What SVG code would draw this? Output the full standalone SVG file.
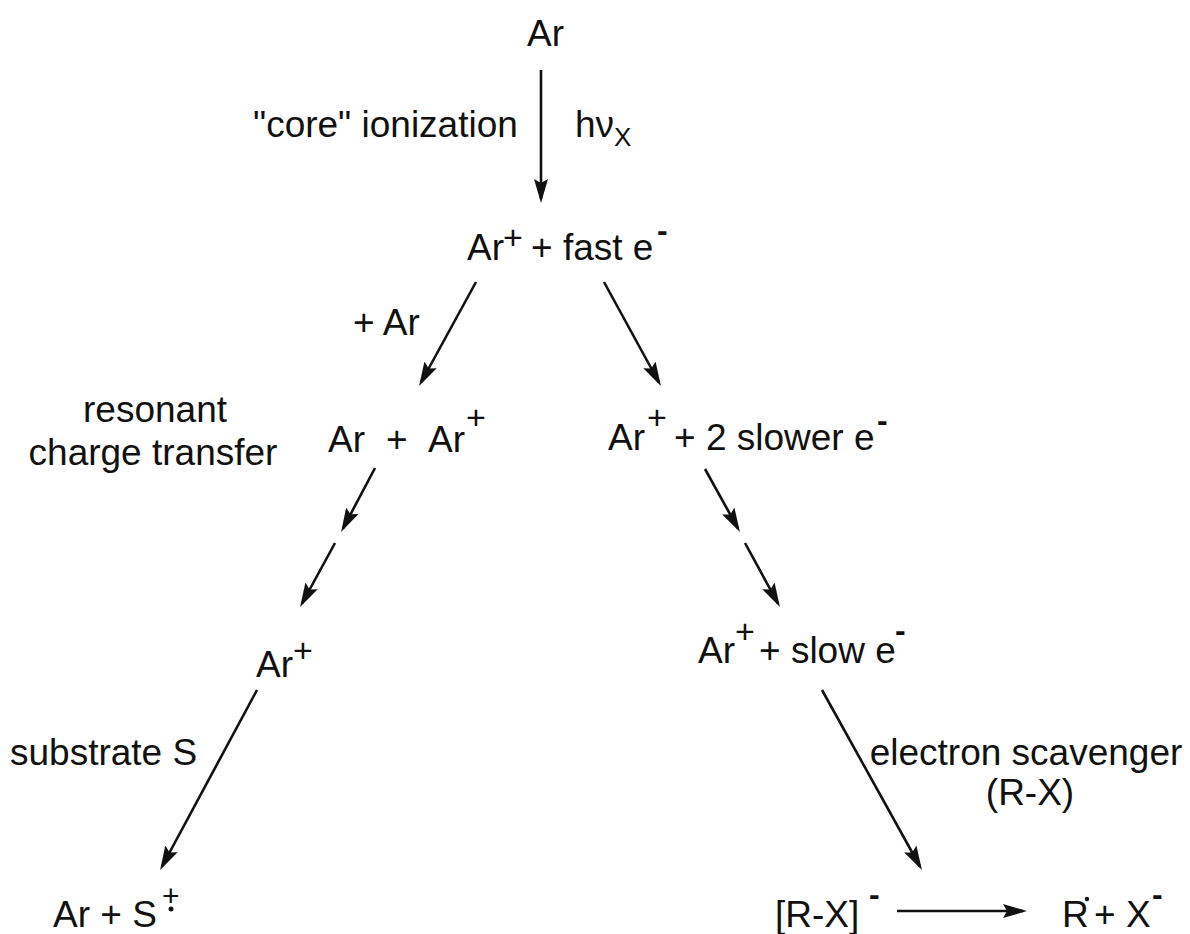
<svg xmlns="http://www.w3.org/2000/svg" width="1190" height="934" viewBox="0 0 1190 934">
<style>
text{font-family:"Liberation Sans",Arial,sans-serif;font-size:37px;fill:#111}
.sup{font-size:34px}
.sup2{font-size:30px}
.min{font-size:32px;font-weight:bold}
.sub{font-size:26px}
.ln{stroke:#111;stroke-width:2.6;fill:none}
</style>
<defs>
<marker id="ah" markerUnits="userSpaceOnUse" markerWidth="30" markerHeight="20" viewBox="0 -10 30 20" refX="20" refY="0" orient="auto">
<path d="M0,-7 L24,0 L0,7 L4,0 z" fill="#111"/>
</marker>
</defs>
<rect width="1190" height="934" fill="#fff"/>
<g id="connectors">
<line class="ln" x1="541" y1="70" x2="541" y2="199" marker-end="url(#ah)"/>
<line class="ln" x1="476" y1="282" x2="421" y2="382.5" marker-end="url(#ah)"/>
<line class="ln" x1="604" y1="282" x2="659" y2="382.5" marker-end="url(#ah)"/>
<line class="ln" x1="375" y1="468" x2="343" y2="528.5" marker-end="url(#ah)"/>
<line class="ln" x1="335" y1="543" x2="302" y2="603.5" marker-end="url(#ah)"/>
<line class="ln" x1="705" y1="469" x2="738" y2="528.5" marker-end="url(#ah)"/>
<line class="ln" x1="745" y1="543" x2="778" y2="603.5" marker-end="url(#ah)"/>
<line class="ln" x1="257" y1="690" x2="162" y2="866.5" marker-end="url(#ah)"/>
<line class="ln" x1="822" y1="690" x2="920" y2="866.5" marker-end="url(#ah)"/>
<line class="ln" x1="897" y1="911" x2="1023" y2="911" marker-end="url(#ah)"/>
</g>
<g id="labels">
<text x="253" y="137">"core" ionization</text>
<text x="575" y="137">hν</text><text x="614" y="146" class="sub">X</text>
<text x="353" y="335">+ Ar</text>
<text x="155" y="422" text-anchor="middle">resonant</text>
<text x="153" y="465" text-anchor="middle">charge transfer</text>
<text x="10" y="765">substrate S</text>
<text x="1026" y="765" text-anchor="middle">electron scavenger</text>
<text x="1030" y="805" text-anchor="middle">(R-X)</text>
</g>
<g id="n-ar"><text x="527" y="46">Ar</text></g>
<g id="n-ar-fast"><text x="467" y="260">Ar</text><text x="503" y="249" class="sup">+</text><text x="531" y="260">+ fast e</text><text x="657" y="241" class="min">-</text></g>
<g id="n-ar-ar"><text x="328" y="452">Ar</text><text x="386" y="452">+</text><text x="428" y="452">Ar</text><text x="466" y="429" class="sup">+</text></g>
<g id="n-ar-slower"><text x="608" y="450">Ar</text><text x="647" y="429" class="sup">+</text><text x="674" y="450">+ 2 slower e</text><text x="877" y="431" class="min">-</text></g>
<g id="n-arplus"><text x="256" y="677">Ar</text><text x="293" y="662" class="sup">+</text></g>
<g id="n-ar-slow"><text x="698" y="663">Ar</text><text x="735" y="643" class="sup">+</text><text x="759" y="663">+ slow e</text><text x="895" y="641" class="min">-</text></g>
<g id="n-ar-s"><text x="53" y="927">Ar + S</text><text x="162" y="906" class="sup2">+</text><circle cx="171" cy="909" r="2.5" fill="#111"/></g>
<g id="n-rx"><text x="775" y="927">[R-X]</text><text x="869" y="905" class="min">-</text></g>
<g id="n-r-x"><text x="1062" y="927">R</text><circle cx="1087" cy="899" r="2.2" fill="#111"/><text x="1094" y="927">+ X</text><text x="1152" y="905" class="min">-</text></g>
</svg>
